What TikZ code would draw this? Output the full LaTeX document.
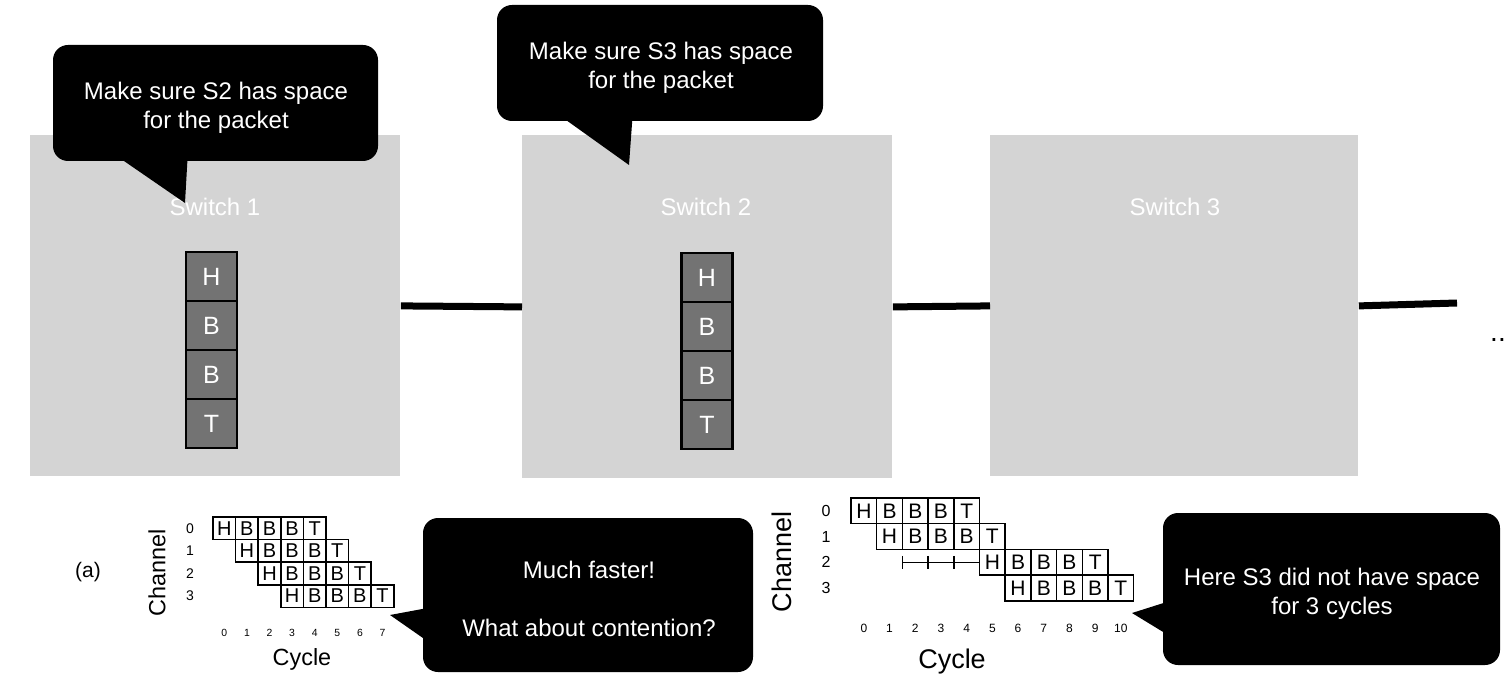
\documentclass[tikz,border=0pt]{standalone}
\usepackage{fontspec}
\setmainfont{Liberation Sans}
\definecolor{swgray}{HTML}{D4D4D4}
\definecolor{pktgray}{HTML}{737373}
\begin{document}
\begin{tikzpicture}[x=0.5pt,y=-0.5pt,
  switchbox/.style={fill=swgray, draw=none, minimum width=185pt, minimum height=170.5pt, inner sep=0pt, anchor=north west},
  swlabel/.style={text=white, font=\fontsize{12}{14}\selectfont, inner sep=0pt},
  pkt/.style={fill=pktgray, draw=black, line width=1.3pt, text=white, font=\fontsize{12.5}{14}\selectfont, minimum width=25.5pt, minimum height=24.5pt, inner sep=0pt},
  link/.style={line width=3.5pt, black},
  callout/.style={fill=black, rounded corners=7.5pt, inner sep=0pt},
  callouttext/.style={text=white, font=\fontsize{12}{14.5}\selectfont, align=center, inner sep=0pt},
  cellA/.style={draw=black, line width=0.75pt, minimum size=11.3pt, inner sep=0pt, font=\fontsize{10}{11}\selectfont},
  cellB/.style={draw=black, line width=0.75pt, minimum size=12.85pt, inner sep=0pt, font=\fontsize{10.5}{12}\selectfont},
  chnumA/.style={inner sep=0pt, font=\fontsize{7}{8}\selectfont},
  chnumB/.style={inner sep=0pt, font=\fontsize{8}{9}\selectfont},
  cycnumA/.style={inner sep=0pt, font=\fontsize{5.2}{6}\selectfont},
  cycnumB/.style={inner sep=0pt, font=\fontsize{6}{7}\selectfont},
  axisA/.style={inner sep=0pt, font=\fontsize{11.7}{13}\selectfont},
  axisB/.style={inner sep=0pt, font=\fontsize{13.5}{15}\selectfont},
  blocked/.style={line width=0.75pt, black}
]
\path[use as bounding box] (0,0) rectangle (1508,684);

% switches
\node[switchbox] (s1) at (30,135) {};
\node[switchbox, minimum height=171.5pt] (s2) at (522,135) {};
\node[switchbox, minimum width=184pt] (s3) at (990,135) {};
\node[swlabel] (s1l) at (215,207) {Switch 1};
\node[swlabel] (s2l) at (706,207) {Switch 2};
\node[swlabel] (s3l) at (1175,207) {Switch 3};

% packets
\foreach \t [count=\i from 0] in {H,B,B,T} {
  \node[pkt] (pa\i) at (211.5,{276.5+49*\i}) {\t};
  \node[pkt] (pb\i) at (707,{277.5+49*\i}) {\t};
}

% links
\draw[link] (s1.east) -- (s2.west);
\draw[link] (s2.east) -- (s3.west);
\coordinate (lend) at (1457,303);
\draw[link] (s3.east) -- (lend);
\node[inner sep=0pt, anchor=base, font=\fontsize{14}{16}\selectfont] (dots) at (1498,341) {..};

% callouts
\node[callout, minimum width=162.5pt, minimum height=58pt] (c1) at (215.5,103) {};
\fill (108,150) -- (188,150) -- (185,203) -- cycle;
\node[callouttext] (c1t) at (216,108) {Make sure S2 has space\\for the packet};
\node[callout, minimum width=163pt, minimum height=58pt] (c2) at (660,63) {};
\fill (552,110) -- (633,110) -- (629,165) -- cycle;
\node[callouttext] (c2t) at (661,68) {Make sure S3 has space\\for the packet};
\node[callout, minimum width=165pt, minimum height=77pt] (c3) at (588,595) {};
\fill (433,607) -- (433,645) -- (390,615) -- cycle;
\node[callouttext] (c3t) at (589,599) {Much faster!\\[14.5pt]What about contention?};
\node[callout, minimum width=168.5pt, minimum height=76pt] (c4) at (1331.5,589) {};
\fill (1173,600) -- (1173,638) -- (1132,613) -- cycle;
\node[callouttext] (c4t) at (1332,594) {Here S3 did not have space\\for 3 cycles};

% chart (a)
\foreach \r in {0,...,3} {
  \foreach \t [count=\k from 0] in {H,B,B,B,T} {
    \node[cellA] (a\r\k) at ({224.3+22.6*(\r+\k)},{528.3+22.6*\r}) {\t};
  }
  \node[chnumA] (ach\r) at (190,{528.3+22.6*\r}) {\r};
}
\foreach \k in {0,...,7} {
  \node[cycnumA] (acy\k) at ({224.3+22.6*\k},633) {\k};
}
\node[inner sep=0pt, font=\fontsize{10.5}{12}\selectfont] (alab) at (88,572) {(a)};
\node[axisA, rotate=90] (ach) at (157,573) {Channel};
\node[axisA] (acyc) at (302,659) {Cycle};

% chart right
\foreach \r/\s in {0/0,1/1,2/5,3/6} {
  \foreach \t [count=\k from 0] in {H,B,B,B,T} {
    \node[cellB] (b\r\k) at ({863.85+25.7*(\s+\k)},{510.85+25.7*\r}) {\t};
  }
  \node[chnumB] (bch\r) at (826,{510.85+25.7*\r}) {\r};
}
\foreach \k in {0,...,10} {
  \node[cycnumB] (bcy\k) at ({863.85+25.7*\k},628) {\k};
}
\node[axisB, rotate=90] (bch) at (782,562) {Channel};
\node[axisB] (bcyc) at (952,662) {Cycle};
\coordinate (w0) at (902.4,562.25);
\coordinate (w1) at (928.1,562.25);
\coordinate (w2) at (953.8,562.25);
\draw[blocked] (w0) -- (b20.west);
\foreach \i in {0,1,2} {
  \draw[blocked] (w\i) ++(0,-6.5) -- ++(0,13);
}
\end{tikzpicture}
\end{document}
